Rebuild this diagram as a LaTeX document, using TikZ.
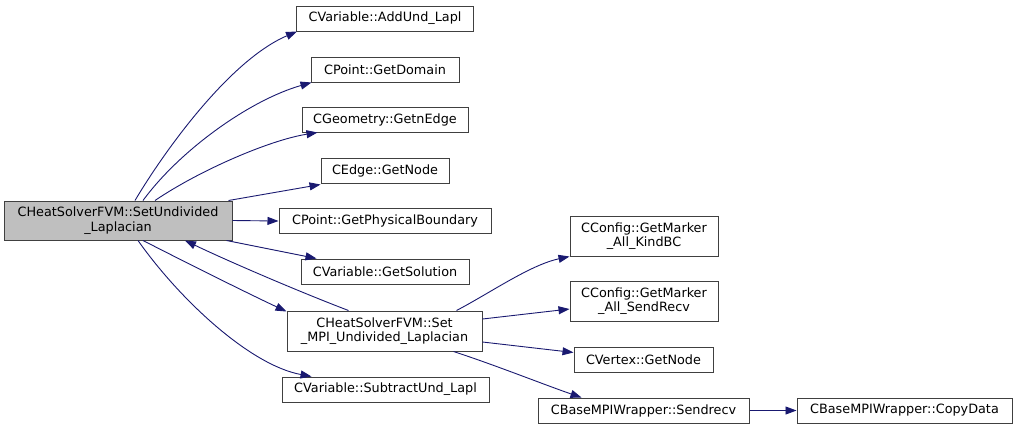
\documentclass[tikz,border=0pt]{standalone}
\usepackage{fontspec}
\setmainfont{DejaVu Sans}
\usetikzlibrary{arrows.meta}
\definecolor{edgeblue}{HTML}{191970}
\definecolor{boxline}{HTML}{404040}
\definecolor{mainfill}{HTML}{BFBFBF}
\begin{document}
\begin{tikzpicture}[x=1pt,y=-1pt,
  fn/.style={draw=boxline,line width=1pt,fill=white,inner sep=0pt,align=center,
    font=\fontsize{12.8}{14.5}\selectfont},
  mainfn/.style={fn,fill=mainfill},
  call/.style={draw=edgeblue,line width=0.9pt,-{Triangle[length=11pt,width=8pt]},fill=none},
]
\useasboundingbox (0,0) rectangle (1017,429);
\node[mainfn,minimum width=228pt,minimum height=39pt] (main) at (118,220.5) {CHeatSolverFVM::SetUndivided\\\_Laplacian};
\node[fn,minimum width=177pt,minimum height=25pt] (addund) at (385,18.5) {CVariable::AddUnd\_Lapl};
\node[fn,minimum width=148pt,minimum height=25pt] (getdomain) at (385,69.5) {CPoint::GetDomain};
\node[fn,minimum width=166pt,minimum height=25pt] (getnedge) at (385,119.5) {CGeometry::GetnEdge};
\node[fn,minimum width=128pt,minimum height=25pt] (edgenode) at (385,170.5) {CEdge::GetNode};
\node[fn,minimum width=212pt,minimum height=25pt] (physbound) at (385,221) {CPoint::GetPhysicalBoundary};
\node[fn,minimum width=168pt,minimum height=25pt] (getsolution) at (385,271.5) {CVariable::GetSolution};
\node[fn,minimum width=195pt,minimum height=40pt] (setmpi) at (384.5,331) {CHeatSolverFVM::Set\\\_MPI\_Undivided\_Laplacian};
\node[fn,minimum width=207pt,minimum height=25pt] (subtract) at (385.5,389.5) {CVariable::SubtractUnd\_Lapl};
\node[fn,minimum width=148pt,minimum height=40pt] (kindbc) at (644,236) {CConfig::GetMarker\\\_All\_KindBC};
\node[fn,minimum width=148pt,minimum height=40pt] (sendrecvm) at (644,301) {CConfig::GetMarker\\\_All\_SendRecv};
\node[fn,minimum width=139pt,minimum height=25pt] (vertex) at (643.5,359.5) {CVertex::GetNode};
\node[fn,minimum width=211pt,minimum height=25pt] (sendrecv) at (643.5,410.5) {CBaseMPIWrapper::Sendrecv};
\node[fn,minimum width=215pt,minimum height=25pt] (copydata) at (904.5,410.5) {CBaseMPIWrapper::CopyData};

\draw[call] ([xshift=17pt]main.north) .. controls (165,150) and (230,60) .. ([xshift=1pt]addund.south west);
\draw[call] ([xshift=25pt]main.north) .. controls (180,150) and (250,100) .. ([xshift=1pt]getdomain.south west);
\draw[call] ([xshift=37pt]main.north) .. controls (200,170) and (270,140) .. ([xshift=16pt]getnedge.south west);
\draw[call] ([xshift=-4pt]main.north east) -- ([yshift=-1pt]edgenode.south west);
\draw[call] (main.east) -- (physbound.west);
\draw[call] ([xshift=-6pt]main.south east) -- ([xshift=16pt]getsolution.north west);
\draw[call] ([xshift=25pt]main.south) .. controls (185,262) and (245,292) .. ([yshift=-1pt]setmpi.north west);
\draw[call] ([xshift=-36pt]setmpi.north) .. controls (300,292) and (230,262) .. ([xshift=67pt]main.south);
\draw[call] ([xshift=20pt]main.south) .. controls (180,300) and (250,365) .. ([xshift=30pt]subtract.north west);
\draw[call] ([xshift=72pt]setmpi.north) .. controls (490,293) and (530,265) .. (kindbc.south west);
\draw[call] ([yshift=12pt]setmpi.east) -- ([yshift=-8pt]sendrecvm.west);
\draw[call] ([yshift=-11pt]setmpi.east) -- ([yshift=7pt]vertex.west);
\draw[call] ([xshift=69pt]setmpi.south) .. controls (495,365) and (545,385) .. ([xshift=44pt]sendrecv.north west);
\draw[call] (sendrecv.east) -- (copydata.west);
\end{tikzpicture}
\end{document}
